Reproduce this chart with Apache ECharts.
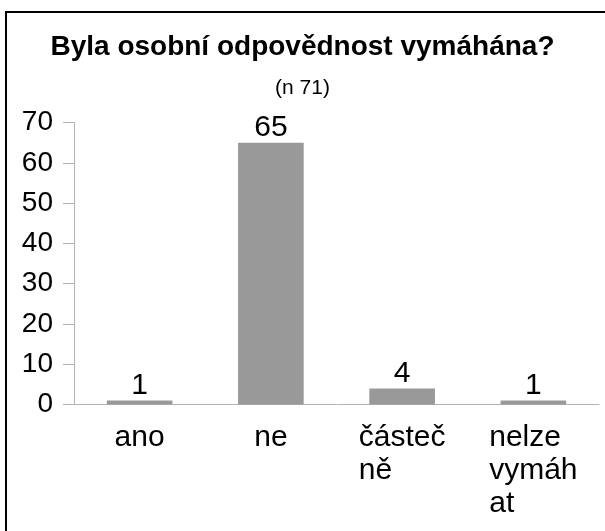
<!DOCTYPE html>
<html>
<head>
<meta charset="utf-8">
<script src="https://cdn.jsdelivr.net/npm/echarts@6/dist/echarts.min.js"></script>
<style>
  html, body { margin: 0; padding: 0; background: #fff; }
  #main { width: 605px; height: 531px; }
</style>
</head>
<body>
<div id="main"></div>
<script>
// data
var titleText = 'Byla osobní odpovědnost vymáhána?';
var subText = '(n 71)';
var categories = ['ano', 'ne', 'částeč\nně', 'nelze\nvymáh\nat'];
var counts = [1, 65, 4, 1];
var yTicks = { min: 0, max: 70, step: 10 };

var chart = echarts.init(document.getElementById('main'));

var option = {
  backgroundColor: '#fff',
  animation: false,
  textStyle: { fontFamily: 'Liberation Sans' },
  title: {
    text: titleText,
    subtext: subText,
    left: 'center',
    top: 28,
    itemGap: 17,
    textStyle: { fontSize: 28, fontWeight: 'bold', color: '#000', fontFamily: 'Liberation Sans' },
    subtextStyle: { fontSize: 21, color: '#000', fontFamily: 'Liberation Sans' }
  },
  // frame of the chart, only top and left edges are inside the picture
  graphic: [{
    type: 'rect',
    shape: { x: 6, y: 12, width: 700, height: 700 },
    style: { fill: null, stroke: '#000', lineWidth: 2 },
    silent: true
  }],
  grid: {
    left: 74,
    right: 6,
    top: 122.5,
    bottom: 126.5,
    containLabel: false
  },
  xAxis: {
    type: 'category',
    data: categories,
    axisLine: { lineStyle: { color: '#b3b3b3', width: 1 } },
    axisTick: { alignWithLabel: true, length: 11, lineStyle: { color: '#b3b3b3' } },
    axisLabel: {
      interval: 0,
      color: '#000',
      fontSize: 30,
      margin: 17,
      lineHeight: 33,
      formatter: function (v) {
        return v.split('\n').map(function (s) { return '{l|' + s + '}'; }).join('\n');
      },
      rich: {
        l: { align: 'left', fontSize: 30, lineHeight: 33, color: '#000', fontFamily: 'Liberation Sans' }
      }
    }
  },
  yAxis: {
    type: 'value',
    min: yTicks.min,
    max: yTicks.max,
    interval: yTicks.step,
    splitLine: { show: false },
    axisLine: { show: true, lineStyle: { color: '#b3b3b3', width: 1 } },
    axisTick: { show: true, length: 11, lineStyle: { color: '#b3b3b3' } },
    axisLabel: { color: '#000', fontSize: 28, margin: 21 }
  },
  series: [{
    type: 'bar',
    data: counts,
    barWidth: '50%',
    itemStyle: { color: '#999999' },
    label: {
      show: true,
      position: 'top',
      distance: 0,
      color: '#000',
      fontSize: 30
    }
  }]
};

chart.setOption(option);
</script>
</body>
</html>
